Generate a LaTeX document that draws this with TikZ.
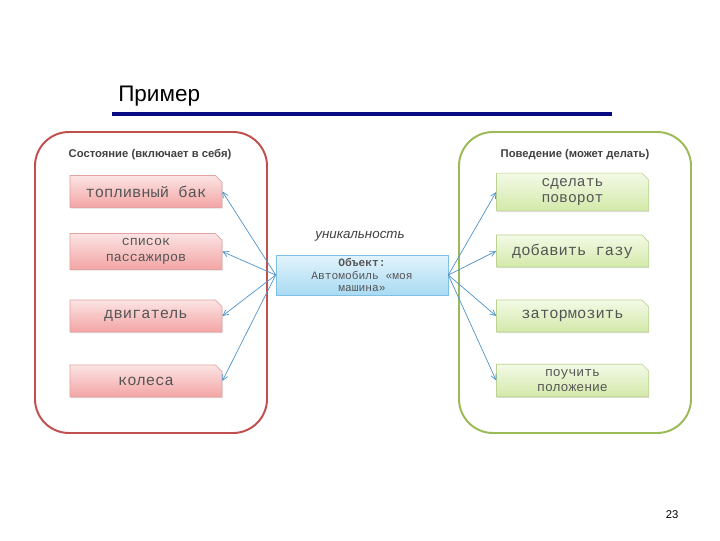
\documentclass[tikz,border=0pt]{standalone}
\usepackage{fontspec}
\setmainfont{Liberation Sans}
\setmonofont{Liberation Mono}
\usetikzlibrary{arrows.meta,positioning,shapes.misc,shadows}
\definecolor{redg}{HTML}{C0504D}
\definecolor{grng}{HTML}{9BBB59}
\definecolor{navy}{HTML}{0A0A80}
\definecolor{arr}{HTML}{4F94C8}
\definecolor{pkbrd}{HTML}{E3A3A2}
\definecolor{pktop}{HTML}{FCE4E4}
\definecolor{pkbot}{HTML}{F3A4A4}
\definecolor{gnbrd}{HTML}{BCD38F}
\definecolor{gntop}{HTML}{F3FAE6}
\definecolor{gnbot}{HTML}{D3E9A9}
\definecolor{bubrd}{HTML}{7EC0E6}
\definecolor{butop}{HTML}{E3F4FC}
\definecolor{bubot}{HTML}{A9DAF3}
\definecolor{mtxt}{HTML}{555555}
\definecolor{htxt}{HTML}{404040}
\newcommand{\mfs}[2]{\ttfamily\fontsize{#1}{#2}\selectfont}
\tikzset{
  grp/.style={draw,line width=1.4pt,rounded corners=0.85cm},
  base/.style={minimum width=3.8cm,minimum height=0.8cm,inner sep=0pt,align=center,text=mtxt,thin,
    drop shadow={opacity=0.25,shadow xshift=0.4pt,shadow yshift=-0.8pt}},
  item/.style={base,chamfered rectangle,chamfered rectangle corners=north east,
    chamfered rectangle xsep=1.2pt,chamfered rectangle angle=45},
  pbox/.style={item,draw=pkbrd,top color=pktop,bottom color=pkbot},
  gbox/.style={item,draw=gnbrd,top color=gntop,bottom color=gnbot},
  obox/.style={base,rectangle,draw=bubrd,top color=butop,bottom color=bubot},
  hd/.style={font=\bfseries\fontsize{8}{8}\selectfont,text=htxt},
  ar/.style={-{Straight Barb[length=4pt,width=4pt]},line width=0.5pt,draw=arr},
}

\begin{document}
\begin{tikzpicture}[x=0.025cm,y=-0.025cm]
  \useasboundingbox (0,0) rectangle (720,540);
  % title
  \node[anchor=west,font=\fontsize{16}{16}\selectfont,inner sep=0pt] (ttl) at (118,96) {Пример};
  \coordinate (r1) at (112,114);
  \coordinate (r2) at (612,114);
  \draw[navy,line width=2.2pt] (r1) -- (r2);
  % groups
  \draw[grp,redg] (35,132) rectangle (267,433);
  \draw[grp,grng] (459,132) rectangle (691,433);
  \node[hd] (hs) at (150,155) {Состояние (включает в себя)};
  \node[hd] (hb) at (575,155) {Поведение (может делать)};
  % state
  \node[pbox,font=\mfs{11}{12}] (s1) at (146,191.5) {топливный бак};
  \node[pbox,font=\mfs{9.5}{11.5}] (s2) at (146,251.5) {список\\пассажиров};
  \node[pbox,font=\mfs{11}{12}] (s3) at (146,316) {двигатель};
  \node[pbox,font=\mfs{11}{12}] (s4) at (146,381) {колеса};
  % behaviour
  \node[gbox,font=\mfs{10.5}{12}] (b1) at (572.5,192) {сделать\\поворот};
  \node[gbox,font=\mfs{11}{12}] (b2) at (572.5,251) {добавить газу};
  \node[gbox,font=\mfs{11}{12}] (b3) at (572.5,316) {затормозить};
  \node[gbox,font=\mfs{9.3}{11}] (b4) at (572.5,380.5) {поучить\\положение};
  % object
  \node[obox,minimum width=4.3cm,minimum height=1cm,font=\mfs{8}{9}] (obj) at (362,275)
       {\textbf{Объект:}\\Автомобиль «моя\\машина»};
  \node[font=\itshape\fontsize{9.5}{9.5}\selectfont,text=htxt] (uq) at (360,236) {уникальность};
  \foreach \s in {s1,s2,s3,s4} \draw[ar] (obj.west) -- (\s.east);
  \foreach \b in {b1,b2,b3,b4} \draw[ar] (obj.east) -- (\b.west);
  \node[font=\fontsize{8}{8}\selectfont] (pg) at (672,515) {23};
\end{tikzpicture}
\end{document}
